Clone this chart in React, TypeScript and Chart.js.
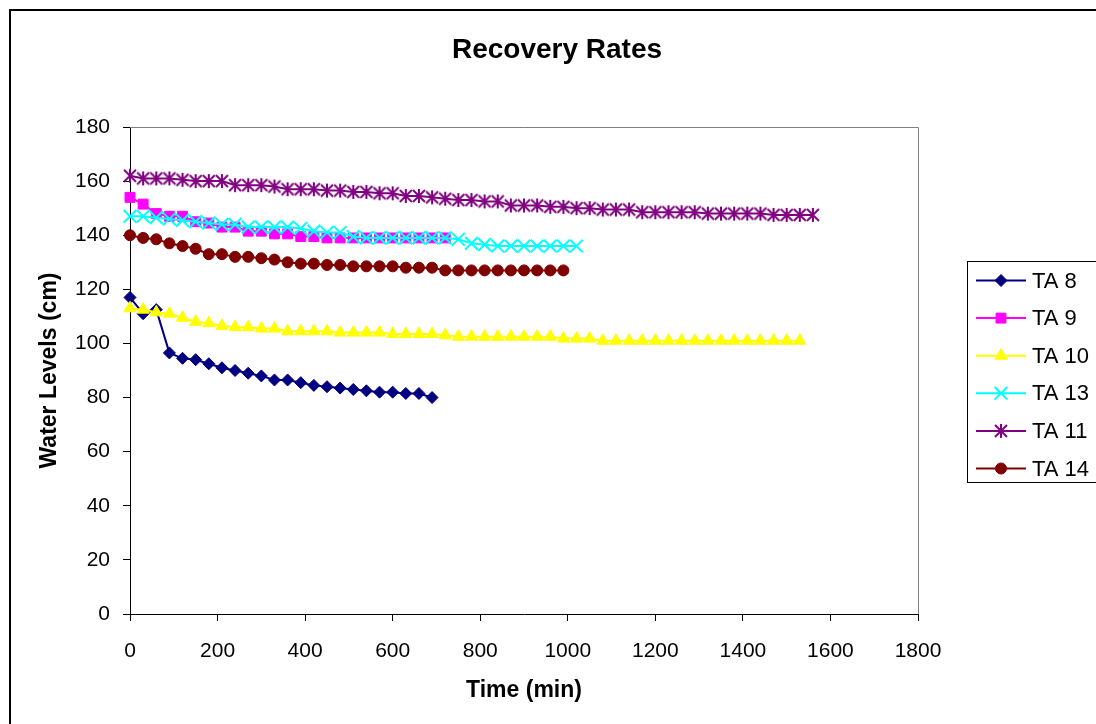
import React, { useEffect, useRef } from 'react';
import { Chart, registerables } from 'chart.js';
import { drawPoint } from 'chart.js/helpers';

Chart.register(...registerables);

const TITLE = 'Recovery Rates';
const X_TITLE = 'Time (min)';
const Y_TITLE = 'Water Levels (cm)';

const X_MIN = 0;
const X_MAX = 1800;
const X_STEP = 200;
const Y_MIN = 0;
const Y_MAX = 180;
const Y_STEP = 20;

const TIMES = [
  0, 30, 60, 90, 120, 150, 180, 210, 240, 270, 300, 330, 360, 390, 420, 450, 480, 510,
  540, 570, 600, 630, 660, 690, 720, 750, 780, 810, 840, 870, 900, 930, 960, 990, 1020,
  1050, 1080, 1110, 1140, 1170, 1200, 1230, 1260, 1290, 1320, 1350, 1380, 1410, 1440,
  1470, 1500, 1530, 1560,
];

const TA8 = [117, 111, 112.5, 96.5, 94.5, 94, 92.5, 91, 90, 89, 88, 86.5, 86.5, 85.5, 84.5, 84,
  83.5, 83, 82.5, 82, 82, 81.5, 81.5, 80];

const TA9 = [154, 151.5, 148, 147, 147, 145, 144.5, 143, 143, 141.5, 141.5, 140.5, 140.5, 139.5,
  139.5, 139, 139, 139, 139, 139, 139, 139, 139, 139, 139];

const TA10 = [113, 112.5, 111.5, 111, 109.5, 108, 107.5, 106.5, 106, 106,
  105.5, 105.5, 104.5, 104.5, 104.5, 104.5, 104, 104, 104, 104,
  103.5, 103.5, 103.5, 103.5, 103, 102.5, 102.5, 102.5, 102.5, 102.5,
  102.5, 102.5, 102.5, 101.8, 101.8, 101.8, 101, 101, 101, 101,
  101, 101, 101, 101, 101, 101, 101, 101, 101, 101,
  101, 101];

const TA13 = [147, 147, 146.5, 146, 145.5, 145, 144.5, 144, 144, 143,
  143, 143, 143, 142.5, 141.5, 141, 141, 139.5, 139, 139,
  139, 139, 139, 139, 139, 138.5, 137, 136.5, 136, 136,
  136, 136, 136, 136, 136];

const TA11 = [162, 161, 161, 161, 160.5, 160, 160, 160, 158.5, 158.5,
  158.5, 158, 157, 157, 157, 156.5, 156.5, 156, 156, 155.5,
  155.5, 154.5, 154.5, 154, 153.5, 153, 153, 152.5, 152.5, 151,
  151, 151, 150.5, 150.5, 150, 150, 149.5, 149.5, 149.5, 148.5,
  148.5, 148.5, 148.5, 148.5, 148, 148, 148, 148, 148, 147.5,
  147.5, 147.5, 147.5];

const TA14 = [140, 139, 138.5, 137, 136, 135, 133, 133, 132, 132,
  131.5, 131, 130, 129.5, 129.5, 129, 129, 128.5, 128.5, 128.5,
  128.5, 128, 128, 128, 127, 127, 127, 127, 127, 127,
  127, 127, 127, 127];

const SERIES_LABELS = ['TA 8', 'TA 9', 'TA 10', 'TA 13', 'TA 11', 'TA 14'];
const SERIES_VALUES = [TA8, TA9, TA10, TA13, TA11, TA14];
const SERIES_COLORS = ['#000080', '#FF00FF', '#FFFF00', '#00FFFF', '#800080', '#800000'];

const FONT = '"Liberation Sans", Arial, Helvetica, sans-serif';

function makeAsterisk(color: string): HTMLCanvasElement {
  const size = 18;
  const c = document.createElement('canvas');
  c.width = size;
  c.height = size;
  const g = c.getContext('2d')!;
  g.strokeStyle = color;
  g.lineWidth = 2;
  const m = size / 2;
  const r = 7;
  const d = 6;
  g.beginPath();
  g.moveTo(m, m - r);
  g.lineTo(m, m + r);
  g.moveTo(m - d, m - d);
  g.lineTo(m + d, m + d);
  g.moveTo(m + d, m - d);
  g.lineTo(m - d, m + d);
  g.stroke();
  return c;
}

export default function App() {
  const ref = useRef<HTMLCanvasElement>(null);

  useEffect(() => {
    const canvas = ref.current;
    if (!canvas) return;
    const asterisk = makeAsterisk(SERIES_COLORS[4]);
    const styles: any[] = ['rectRot', 'rect', 'triangle', 'crossRot', asterisk, 'circle'];
    const radii = [6, 7, 7, 9, 8, 5.5];
    const pbw = [1, 1, 1, 2, 1, 1];

    const datasets = SERIES_VALUES.map((vals, i) => ({
      label: SERIES_LABELS[i],
      data: vals.map((v, j) => ({ x: TIMES[j], y: v })),
      borderColor: SERIES_COLORS[i],
      backgroundColor: SERIES_COLORS[i],
      borderWidth: 2,
      pointStyle: styles[i],
      pointRadius: radii[i],
      pointBorderWidth: pbw[i],
      pointBackgroundColor: SERIES_COLORS[i],
      pointBorderColor: SERIES_COLORS[i],
      tension: 0,
      fill: false,
      clip: false as any,
      order: SERIES_VALUES.length - i,
    }));

    const decor = {
      id: 'decor',
      beforeDraw(chart: any) {
        const ctx = chart.ctx;
        ctx.save();
        ctx.fillStyle = '#fff';
        ctx.fillRect(0, 0, chart.width, chart.height);
        ctx.strokeStyle = '#000';
        ctx.lineWidth = 2;
        ctx.strokeRect(10, 10, 1200, 800);
        ctx.restore();
      },
      beforeDatasetsDraw(chart: any) {
        const { ctx, chartArea: a } = chart;
        ctx.save();
        ctx.strokeStyle = '#808080';
        ctx.lineWidth = 1;
        ctx.beginPath();
        ctx.moveTo(a.left, a.top + 0.5);
        ctx.lineTo(a.right + 0.5, a.top + 0.5);
        ctx.lineTo(a.right + 0.5, a.bottom);
        ctx.stroke();
        ctx.restore();
      },
      afterDraw(chart: any) {
        const ctx = chart.ctx;
        ctx.save();
        ctx.fillStyle = '#000';
        ctx.font = `bold 28px ${FONT}`;
        ctx.textAlign = 'center';
        ctx.textBaseline = 'middle';
        ctx.fillText(TITLE, 557, 50);
        ctx.strokeStyle = '#000';
        ctx.lineWidth = 1;
        ctx.strokeRect(967.5, 261.5, 200, 221);
        ctx.font = `22px ${FONT}`;
        ctx.textAlign = 'left';
        chart.data.datasets.forEach((ds: any, i: number) => {
          const y = 280.5 + i * 37.6;
          ctx.strokeStyle = ds.borderColor;
          ctx.lineWidth = 2;
          ctx.beginPath();
          ctx.moveTo(976, y);
          ctx.lineTo(1026, y);
          ctx.stroke();
          ctx.fillStyle = ds.pointBackgroundColor;
          ctx.strokeStyle = ds.pointBorderColor;
          ctx.lineWidth = ds.pointBorderWidth;
          drawPoint(ctx, { pointStyle: ds.pointStyle, radius: ds.pointRadius, rotation: 0, borderWidth: ds.pointBorderWidth } as any, 1001, y);
          ctx.fillStyle = '#000';
          ctx.fillText(ds.label, 1032, y + 1);
        });
        ctx.restore();
      },
    };

    const chart = new Chart(canvas, {
      type: 'line',
      data: { datasets: datasets as any },
      options: {
        animation: false,
        responsive: false,
        events: [],
        layout: { padding: { top: 127, right: 178, left: 0, bottom: 0 } },
        plugins: {
          legend: { display: false },
          title: { display: false },
          tooltip: { enabled: false },
        },
        scales: {
          x: {
            type: 'linear',
            min: X_MIN,
            max: X_MAX,
            afterFit(scale: any) { scale.height = 110; },
            ticks: {
              stepSize: X_STEP,
              color: '#000',
              padding: 18,
              maxRotation: 0,
              font: { family: FONT, size: 21 },
              callback: (v: any) => String(v),
            },
            grid: { display: true, drawOnChartArea: false, drawTicks: true, tickLength: 7, color: '#000' },
            border: { display: true, color: '#000', width: 1 },
            title: {
              display: true,
              text: X_TITLE,
              color: '#000',
              font: { family: FONT, size: 23, weight: 'bold' },
              padding: { top: 0, bottom: 20 },
            },
          },
          y: {
            type: 'linear',
            min: Y_MIN,
            max: Y_MAX,
            afterFit(scale: any) { scale.width = 130; },
            ticks: {
              stepSize: Y_STEP,
              color: '#000',
              padding: 13,
              font: { family: FONT, size: 21 },
              callback: (v: any) => String(v),
            },
            grid: { display: true, drawOnChartArea: false, drawTicks: true, tickLength: 7, color: '#000' },
            border: { display: true, color: '#000', width: 1 },
            title: {
              display: true,
              text: Y_TITLE,
              color: '#000',
              font: { family: FONT, size: 23, weight: 'bold' },
              padding: { top: 36, bottom: 0 },
            },
          },
        },
      },
      plugins: [decor],
    });

    return () => chart.destroy();
  }, []);

  return (
    <div style={{ position: 'fixed', left: 0, top: 0, width: 1096, height: 724, background: '#fff' }}>
      <canvas ref={ref} width={1096} height={724} style={{ display: 'block', width: 1096, height: 724 }} />
    </div>
  );
}
